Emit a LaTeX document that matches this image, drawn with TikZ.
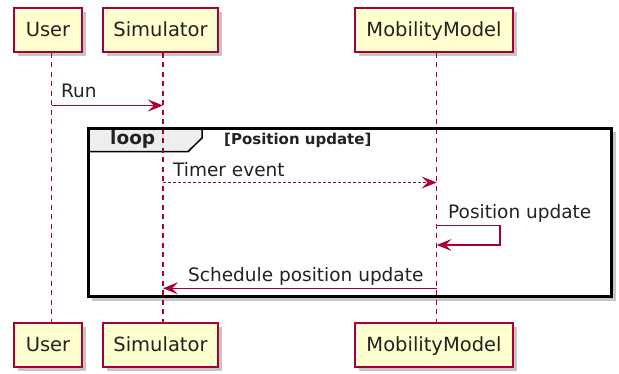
\documentclass[tikz,border=0pt]{standalone}
\usepackage{fontspec}
\setmainfont{DejaVu Sans}
\usetikzlibrary{arrows.meta,shadows}
\definecolor{pu}{HTML}{A80036}
\definecolor{pfill}{HTML}{FEFECE}
\definecolor{tabfill}{HTML}{EEEEEE}
\definecolor{txt}{HTML}{222222}
\begin{document}
\begin{tikzpicture}[x=1pt,y=-1pt,
  part/.style={draw=pu, fill=pfill, line width=1.5pt, minimum height=44pt, inner sep=0pt,
    text height=14pt, text depth=0pt, text=txt, font=\fontsize{19.5}{20}\selectfont,
    drop shadow={shadow xshift=4pt, shadow yshift=-4pt, fill=black, opacity=0.22}},
  life/.style={draw=pu, line width=1.3pt, dash pattern=on 5pt off 4.5pt},
  msg/.style={draw=pu, line width=1.4pt, -{Stealth[length=15pt,width=12pt,inset=6pt]}},
  lbl/.style={font=\fontsize{18.5}{20}\selectfont, text=txt, anchor=base west, inner sep=0pt},
  ]
\useasboundingbox (0,0) rectangle (619,374);
% loop frame (background)
\path[fill=white, drop shadow={shadow xshift=4pt, shadow yshift=-4pt, fill=black, opacity=0.22}]
  (88.3,128.3) rectangle (611.5,297);
\filldraw[fill=tabfill, draw=black, line width=1.5pt]
  (88.3,128.3) -- (202,128.3) -- (202,138) -- (188,151.7) -- (88.3,151.7) -- cycle;
% participants
\node[part, minimum width=68pt] (u1) at (48,30) {User};
\node[part, minimum width=115pt] (s1) at (160.5,30) {Simulator};
\node[part, minimum width=158pt] (m1) at (434,30) {MobilityModel};
\node[part, minimum width=68pt] (u2) at (48,345) {User};
\node[part, minimum width=115pt] (s2) at (160.5,345) {Simulator};
\node[part, minimum width=158pt] (m2) at (434,345) {MobilityModel};
% lifelines
\draw[life] ([xshift=3.5pt]u1.south) -- ([xshift=3.5pt]u2.north);
\draw[life] ([xshift=2.5pt]s1.south) -- ([xshift=2.5pt]s2.north);
\draw[life] ([xshift=2.7pt]m1.south) -- ([xshift=2.7pt]m2.north);
% frame border
\draw[black, line width=3pt] (88.3,128.3) rectangle (611.5,297);
\node[font=\bfseries\fontsize{18.5}{20}\selectfont, text=txt, anchor=base west, inner sep=0pt] (looplbl) at (110,145) {loop};
\node[font=\bfseries\fontsize{15}{16}\selectfont, text=txt, anchor=base west, inner sep=0pt] (cond) at (224,145) {[Position update]};
% message anchor points
\coordinate (uR) at (51.5,105.5);
\coordinate (sR) at (163,105.5);
\coordinate (sT) at (163,182.5);
\coordinate (mT) at (436.7,182.5);
\coordinate (mP1) at (436.7,225.7);
\coordinate (mP2) at (436.7,245);
\coordinate (mS) at (436.7,288.3);
\coordinate (sS) at (163,288.3);
% messages
\draw[msg] (uR) -- (sR);
\node[lbl] (runlbl) at (61,97.5) {Run};
\draw[msg, dash pattern=on 2.5pt off 2.5pt] (sT) -- (mT);
\node[lbl] (timerlbl) at (173,176.7) {Timer event};
\draw[msg] (mP1) -- (500,225.7) -- (500,245) -- (mP2);
\node[lbl] (poslbl) at (448,219) {Position update};
\draw[msg] (mS) -- (sS);
\node[lbl] (schedlbl) at (188,281.7) {Schedule position update};
\end{tikzpicture}
\end{document}
